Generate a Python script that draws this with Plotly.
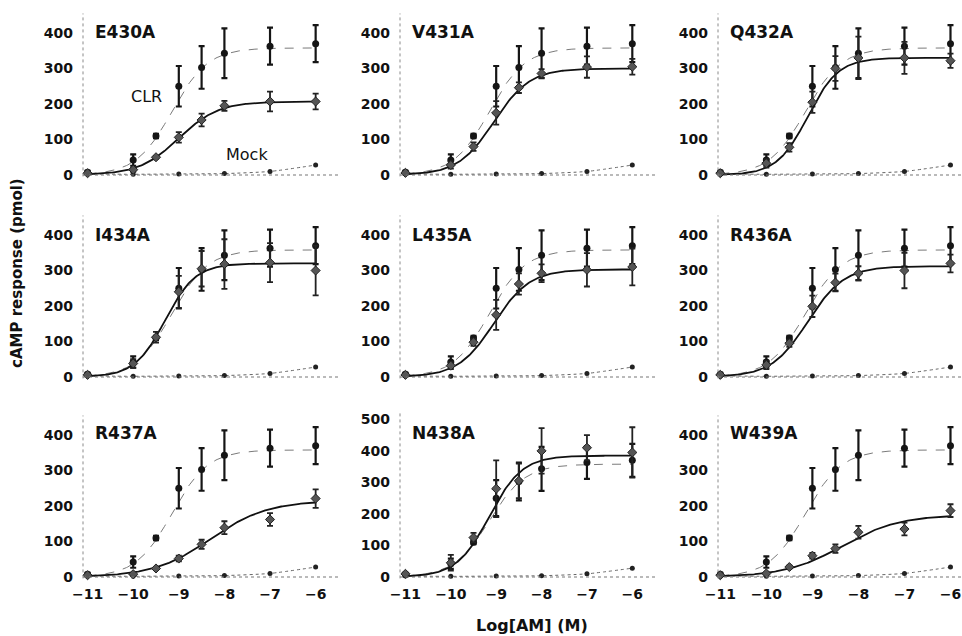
import numpy as np
import plotly.graph_objects as go

# ---------------- data ----------------
log_am = [-11, -10, -9.5, -9, -8.5, -8, -7, -6]
mock_x = [-11, -10, -9, -8, -7, -6]
x_ticks = [-11, -10, -9, -8, -7, -6]

panel_names = ["E430A", "V431A", "Q432A", "I434A", "L435A", "R436A", "R437A", "N438A", "W439A"]

# wild-type CLR (shown in every panel)
clr_mean = [8, 42, 110, 250, 303, 343, 363, 370]
clr_err = [4, 16, 6, 57, 60, 70, 52, 52]
clr_top = 358
clr_logec50 = -9.15
clr_hill = 1.1

# mock-transfected cells
mock_mean = [3, 2, 3, 4, 10, 28]

# mutants (means, SEM)
e430a_mean = [5, 15, 50, 106, 155, 195, 207, 207]
e430a_err = [3, 6, 4, 15, 18, 14, 28, 22]
v431a_mean = [6, 28, 80, 175, 246, 286, 304, 305]
v431a_err = [3, 10, 12, 33, 15, 12, 30, 22]
q432a_mean = [5, 33, 78, 205, 300, 330, 330, 322]
q432a_err = [3, 12, 12, 30, 35, 60, 45, 20]
i434a_mean = [6, 38, 112, 240, 305, 318, 322, 300]
i434a_err = [3, 12, 15, 45, 50, 70, 55, 70]
l435a_mean = [6, 32, 98, 175, 262, 292, 302, 310]
l435a_err = [3, 10, 10, 42, 30, 25, 47, 52]
r436a_mean = [6, 34, 95, 199, 266, 292, 300, 320]
r436a_err = [3, 12, 10, 30, 25, 20, 50, 25]
r437a_mean = [5, 8, 24, 52, 92, 139, 162, 221]
r437a_err = [3, 3, 4, 8, 13, 18, 18, 26]
n438a_mean = [10, 45, 125, 280, 305, 400, 410, 395]
n438a_err = [4, 25, 15, 90, 55, 72, 40, 80]
w439a_mean = [5, 10, 28, 60, 80, 126, 135, 187]
w439a_err = [3, 3, 4, 8, 12, 18, 18, 18]

# fitted sigmoid parameters
mut_top = [207, 300, 330, 320, 303, 312, 215, 385, 175]
mut_logec50 = [-9.0, -9.05, -9.1, -9.3, -9.05, -9.1, -8.3, -9.15, -8.35]
mut_hill = [1.0, 1.1, 1.3, 1.3, 1.1, 1.1, 0.7, 1.2, 0.7]

mut_means = [e430a_mean, v431a_mean, q432a_mean, i434a_mean, l435a_mean,
             r436a_mean, r437a_mean, n438a_mean, w439a_mean]
mut_errs = [e430a_err, v431a_err, q432a_err, i434a_err, l435a_err,
            r436a_err, r437a_err, n438a_err, w439a_err]

y_max = [455, 455, 455, 455, 455, 455, 455, 525, 455]

# ---------------- layout geometry (pixels) ----------------
W, H = 962, 636
col_px = [(83, 338), (400, 655), (718, 962)]
col_range = [(-11.1, -5.51), (-11.12, -5.5), (-11.05, -5.75)]
row_zero_px = [175, 377, 577]
px_per_unit = [0.355, 0.355, 0.355]
y_low = -4

FONT = "DejaVu Sans"


def sigmoid(x, top, logec50, hill):
    return top / (1.0 + 10 ** ((logec50 - x) * hill))


fig = go.Figure()
curve_x = np.linspace(-11, -6, 200)

shapes = []
annotations = []
layout_axes = {}

for i, name in enumerate(panel_names):
    r, c = divmod(i, 3)
    n = i + 1
    xa = "x" if n == 1 else f"x{n}"
    ya = "y" if n == 1 else f"y{n}"
    xkey = "xaxis" if n == 1 else f"xaxis{n}"
    ykey = "yaxis" if n == 1 else f"yaxis{n}"

    x0, x1 = col_px[c]
    zero = row_zero_px[r]
    if name == "N438A":
        ppu = 0.3153
        lo = -4.5
    else:
        ppu = px_per_unit[r]
        lo = y_low
    hi = y_max[i]
    bottom_px = zero - lo * ppu
    top_px = zero - hi * ppu

    layout_axes[xkey] = dict(
        domain=[x0 / W, x1 / W], range=list(col_range[c]), anchor=ya,
        showline=False, showgrid=False, zeroline=False, ticks="", automargin=False,
        tickvals=x_ticks, showticklabels=(r == 2), ticklabelstandoff=6,
        tickfont=dict(family=FONT, size=14, color="#111", weight="bold"),
    )
    layout_axes[ykey] = dict(
        domain=[1 - bottom_px / H, 1 - top_px / H], range=[lo, hi], anchor=xa,
        showline=False, showgrid=False, zeroline=False, ticks="", automargin=False,
        dtick=100, tick0=0, ticklabelstandoff=9,
        tickfont=dict(family=FONT, size=14, color="#111", weight="bold"),
    )

    # dotted axis lines
    shapes.append(dict(type="line", xref=f"{xa} domain", yref=f"{ya} domain",
                       x0=0, x1=0, y0=0, y1=1,
                       line=dict(color="#8a8a8a", width=1, dash="dot")))
    shapes.append(dict(type="line", xref=f"{xa} domain", yref=ya,
                       x0=0, x1=1, y0=0, y1=0,
                       line=dict(color="#777", width=1.2, dash="dot")))

    # mock
    fig.add_trace(go.Scatter(
        x=mock_x, y=mock_mean, xaxis=xa, yaxis=ya, mode="lines+markers",
        line=dict(color="#666", width=1, dash="dot", shape="spline", smoothing=0.6),
        marker=dict(color="#222", size=5, symbol="circle"),
        cliponaxis=False, showlegend=False, hoverinfo="skip"))

    # CLR fit + points
    fig.add_trace(go.Scatter(
        x=curve_x, y=sigmoid(curve_x, clr_top, clr_logec50, clr_hill),
        xaxis=xa, yaxis=ya, mode="lines",
        line=dict(color="#7a7a7a", width=1, dash="dash"),
        showlegend=False, hoverinfo="skip"))
    fig.add_trace(go.Scatter(
        x=log_am, y=clr_mean, xaxis=xa, yaxis=ya, mode="markers",
        marker=dict(color="#151515", size=7, symbol="circle"),
        error_y=dict(type="data", array=clr_err, color="#151515", thickness=2.2, width=3),
        cliponaxis=False, showlegend=False))

    # mutant fit + points
    fig.add_trace(go.Scatter(
        x=curve_x, y=sigmoid(curve_x, mut_top[i], mut_logec50[i], mut_hill[i]),
        xaxis=xa, yaxis=ya, mode="lines",
        line=dict(color="#111", width=1.8),
        showlegend=False, hoverinfo="skip"))
    fig.add_trace(go.Scatter(
        x=log_am, y=mut_means[i], xaxis=xa, yaxis=ya, mode="markers",
        marker=dict(color="#555", size=7, symbol="diamond",
                    line=dict(color="#222", width=1)),
        error_y=dict(type="data", array=mut_errs[i], color="#222", thickness=1.8, width=3),
        cliponaxis=False, showlegend=False))

    # panel label
    label_y_px = [32, 235, 433][r]
    annotations.append(dict(
        text=name, xref="paper", yref="paper", x=(x0 + 10) / W, y=1 - label_y_px / H,
        xanchor="left", yanchor="middle", showarrow=False,
        font=dict(family=FONT, size=17, color="#111", weight="bold")))

# in-panel series labels (first panel)
annotations.append(dict(text="CLR", xref="x", yref="y", x=-9.7, y=222,
                        showarrow=False, font=dict(family=FONT, size=16, color="#111")))
annotations.append(dict(text="Mock", xref="x", yref="y", x=-7.5, y=58,
                        showarrow=False, font=dict(family=FONT, size=16, color="#111")))

# axis titles
annotations.append(dict(text="cAMP response (pmol)", xref="paper", yref="paper",
                        x=17 / W, y=1 - 273 / H, textangle=-90, showarrow=False,
                        xanchor="center", yanchor="middle",
                        font=dict(family=FONT, size=15, color="#111", weight="bold")))
annotations.append(dict(text="Log[AM] (M)", xref="paper", yref="paper",
                        x=532 / W, y=1 - 625 / H, showarrow=False,
                        xanchor="center", yanchor="middle",
                        font=dict(family=FONT, size=16, color="#111", weight="bold")))

fig.update_layout(
    width=W, height=H, margin=dict(l=0, r=0, t=0, b=0, autoexpand=False),
    paper_bgcolor="white", plot_bgcolor="white",
    shapes=shapes, annotations=annotations, showlegend=False,
    **layout_axes,
)

fig.write_html(
    "out.html",
    config={"displayModeBar": False},
    post_script="document.body.style.margin='0';document.body.style.overflow='hidden';",
)
